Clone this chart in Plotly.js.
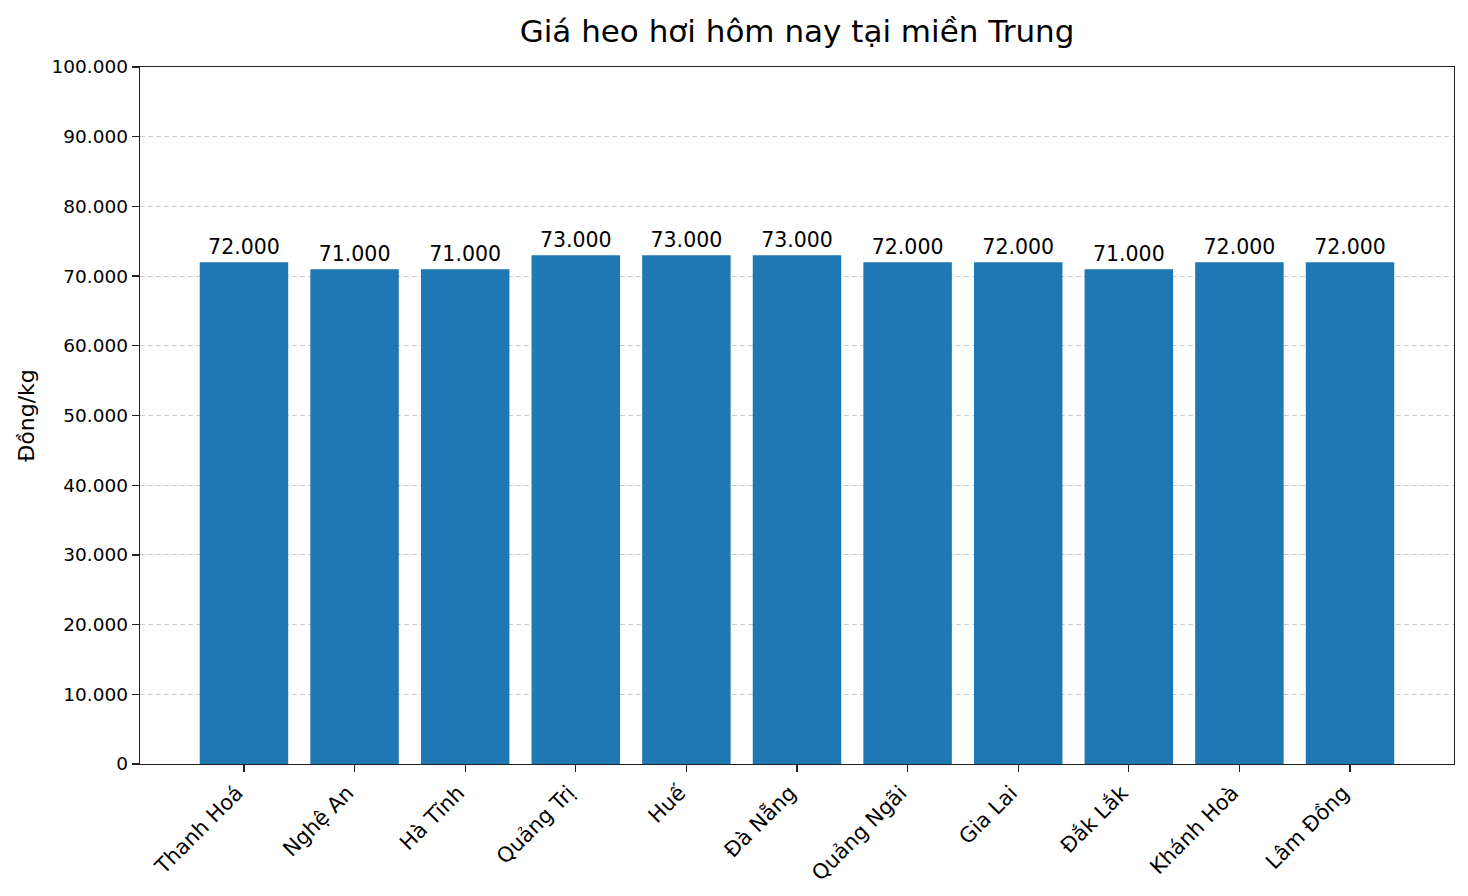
<!DOCTYPE html>
<html>
<head>
<meta charset="utf-8">
<script src="https://cdn.plot.ly/plotly-3.0.1.min.js"></script>
<style>
  html, body { margin: 0; padding: 0; background: #fff; }
  #chart { width: 1468px; height: 896px; }
</style>
</head>
<body>
<div id="chart"></div>
<script>
// tỉnh miền Trung và giá heo hơi (đồng/kg)
var provinces = ["Thanh Hoá", "Nghệ An", "Hà Tĩnh", "Quảng Trị", "Huế", "Đà Nẵng",
                 "Quảng Ngãi", "Gia Lai", "Đắk Lắk", "Khánh Hoà", "Lâm Đồng"];
var prices = [72000, 71000, 71000, 73000, 73000, 73000, 72000, 72000, 71000, 72000, 72000];
var yTicks = [0, 10000, 20000, 30000, 40000, 50000, 60000, 70000, 80000, 90000, 100000];

var font = "DejaVu Sans, sans-serif";

var trace = {
  type: "bar",
  x: provinces,
  y: prices,
  width: 0.8,
  marker: {color: "#1f77b4"},
  texttemplate: "%{y:,d}",
  textposition: "outside",
  constraintext: "none",
  textfont: {family: font, size: 20.5, color: "#000"},
  cliponaxis: false,
  hoverinfo: "x+y"
};

var layout = {
  width: 1468,
  height: 896,
  separators: ",.",
  font: {family: font, color: "#000"},
  paper_bgcolor: "#fff",
  plot_bgcolor: "#fff",
  margin: {l: 140, r: 14, t: 67, b: 132},
  showlegend: false,
  title: {
    text: "Giá heo hơi hôm nay tại miền Trung",
    font: {family: font, size: 31, color: "#000"},
    xref: "paper", x: 0.5, xanchor: "center",
    yref: "container", y: 1 - 31 / 896, yanchor: "middle"
  },
  xaxis: {
    range: [-0.94, 10.94],
    tickangle: -45,
    ticks: "outside", ticklen: 7, tickwidth: 1.3, tickcolor: "#222",
    tickfont: {family: font, size: 21, color: "#000"},
    ticklabelshift: -7,
    showgrid: false,
    showline: true, linecolor: "#222", linewidth: 1.3, mirror: true,
    zeroline: false
  },
  yaxis: {
    range: [0, 100000],
    tickvals: yTicks,
    tickformat: ",d",
    ticks: "outside", ticklen: 7, tickwidth: 1.3, tickcolor: "#222",
    tickfont: {family: font, size: 18.5, color: "#000"},
    showgrid: true, gridcolor: "#cccccc", griddash: "5px,3px", gridwidth: 1,
    showline: true, linecolor: "#222", linewidth: 1.3, mirror: true,
    zeroline: false,
    title: {text: "Đồng/kg", font: {family: font, size: 22, color: "#000"}, standoff: 10}
  },
  bargap: 0.2
};

Plotly.newPlot("chart", [trace], layout, {displayModeBar: false, staticPlot: true});
</script>
</body>
</html>
